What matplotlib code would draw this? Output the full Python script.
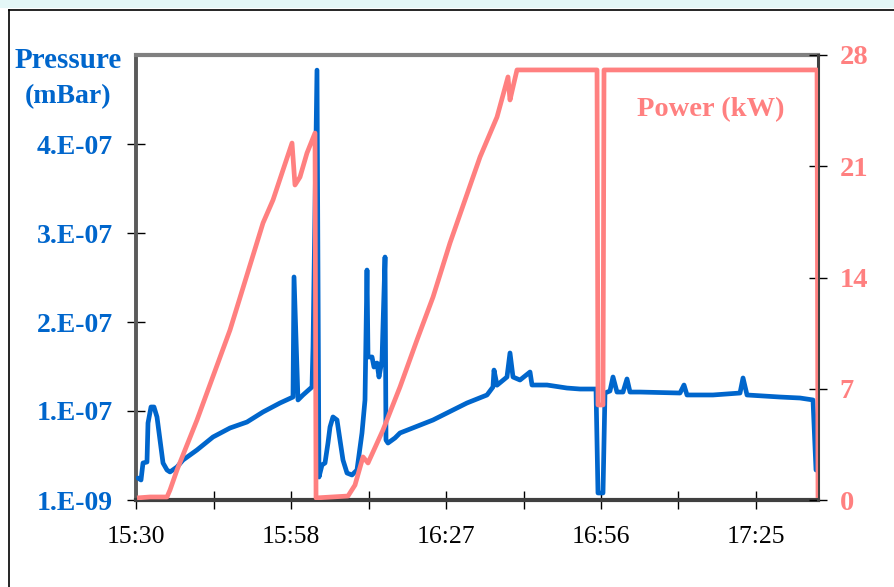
import numpy as np
import matplotlib
matplotlib.use("Agg")
import matplotlib.pyplot as plt
from matplotlib.lines import Line2D
from matplotlib.patches import Rectangle

# ---------------- data ----------------
# time in minutes after 15:30
p_time = [0.37, 0.93, 1.30, 2.04, 2.23, 2.79, 3.34, 3.90, 4.46, 5.02, 5.76, 6.32,
          7.62, 8.73, 11.33, 14.31, 17.47, 20.62, 23.60, 26.76, 29.17, 29.36, 30.10,
          31.03, 32.70, 32.89, 33.63, 34.00, 34.56, 35.12, 35.67, 36.05, 36.60, 37.35,
          37.90, 38.46, 39.21, 40.13, 41.06, 41.99, 42.55, 42.92, 43.11, 43.85, 44.22,
          44.78, 45.15, 45.71, 46.27, 46.45, 46.82, 48.12, 49.05, 55.19, 61.50, 65.22,
          66.33, 66.52, 67.08, 68.93, 69.49, 70.05, 71.35, 73.21, 73.58, 76.37, 80.08,
          82.50, 85.47, 85.84, 86.77, 87.14, 88.07, 88.63, 89.37, 90.49, 91.23, 91.79,
          93.65, 101.08, 101.82, 102.38, 107.21, 112.23, 112.79, 113.53, 119.66,
          123.38, 125.79, 126.35]
# pressure in units of 1e-7 mBar
pressure_e7 = [0.257, 0.235, 0.426, 0.437, 0.875, 1.055, 1.055, 0.943, 0.684, 0.426,
               0.347, 0.325, 0.381, 0.459, 0.572, 0.718, 0.819, 0.886, 0.999, 1.100,
               1.167, 2.516, 1.134, 1.190, 1.280, 1.730, 4.840, 0.268, 0.403, 0.426,
               0.650, 0.830, 0.943, 0.909, 0.684, 0.459, 0.313, 0.291, 0.347, 0.763,
               1.134, 2.594, 1.617, 1.617, 1.504, 1.549, 1.392, 1.583, 2.740, 0.684,
               0.650, 0.707, 0.763, 0.909, 1.100, 1.190, 1.280, 1.470, 1.300, 1.392,
               1.662, 1.392, 1.358, 1.448, 1.302, 1.302, 1.268, 1.257, 1.257, 0.089,
               0.089, 1.212, 1.235, 1.392, 1.223, 1.223, 1.370, 1.223, 1.223, 1.212,
               1.302, 1.190, 1.190, 1.212, 1.381, 1.190, 1.167, 1.156, 1.134, 0.347]

w_time = [0.19, 2.60, 5.76, 6.32, 7.62, 11.33, 17.47, 23.60, 25.46, 27.31, 28.99,
          29.54, 30.47, 31.77, 33.26, 33.45, 36.42, 39.39, 40.69, 42.18, 43.11, 45.89,
          49.05, 52.21, 55.19, 58.34, 63.92, 67.08, 69.12, 69.49, 70.05, 70.79, 76.92,
          85.66, 85.84, 86.77, 86.96, 104.79, 126.54, 126.72]
power_kw = [0.13, 0.19, 0.19, 0.63, 1.89, 5.03, 10.70, 17.43, 18.88, 20.76, 22.46,
            19.82, 20.32, 21.83, 23.09, 0.13, 0.19, 0.25, 0.94, 2.71, 2.33, 4.40,
            7.11, 10.07, 12.77, 16.17, 21.58, 24.10, 26.62, 25.17, 25.99, 27.06, 27.06,
            27.06, 5.98, 5.98, 27.06, 27.06, 27.06, 0.13]

x_ticks_min = [0, 14.4, 28.8, 43.2, 57.6, 72.0, 86.4, 100.8, 115.2]
x_tick_labels = ["15:30", "", "15:58", "", "16:27", "", "16:56", "", "17:25"]
p_ticks_e7 = [0.01, 1.01, 2.01, 3.01, 4.01]
p_tick_labels = ["1.E-09", "1.E-07", "2.E-07", "3.E-07", "4.E-07"]
w_ticks = [0, 7, 14, 21, 28]
w_tick_labels = ["0", "7", "14", "21", "28"]

BLUE = "#0066CC"
PINK = "#FF8080"
SERIF = "Liberation Serif"

# ---------------- figure ----------------
W, H = 895, 587
fig = plt.figure(figsize=(W / 100, H / 100), dpi=100)
fig.patch.set_facecolor("white")

# top band and frame lines
fig.patches.append(Rectangle((0, 1 - 8 / H), 1, 8 / H, transform=fig.transFigure,
                             facecolor="#E4F7F7", edgecolor="none", zorder=0))
fig.lines.append(Line2D([8.5 / W, 1], [1 - 9.5 / H, 1 - 9.5 / H],
                        transform=fig.transFigure, color="black", lw=1.2))
fig.lines.append(Line2D([8.5 / W, 8.5 / W], [0, 1 - 9.5 / H],
                        transform=fig.transFigure, color="black", lw=1.2))

ax = fig.add_axes([136 / W, 1 - 500 / H, (818 - 136) / W, (500 - 55) / H])
ax2 = ax.twinx()

pressure = np.array(pressure_e7) * 1e-7
ax.plot(p_time, pressure, color=BLUE, lw=3.4, solid_joinstyle="round",
        solid_capstyle="round", zorder=3)
ax2.plot(w_time, power_kw, color=PINK, lw=3.4, solid_joinstyle="round",
         solid_capstyle="butt", zorder=3)

ax.set_xlim(0, 126.72)
ax.set_ylim(0.01e-7, 5.01e-7)
ax2.set_ylim(0, 28)

ax.set_xticks(x_ticks_min)
ax.set_xticklabels(x_tick_labels, fontfamily=SERIF, fontsize=18.5, color="black")
ax.set_yticks(np.array(p_ticks_e7) * 1e-7)
ax.set_yticklabels(p_tick_labels, fontfamily=SERIF, fontsize=20,
                   fontweight="bold", color=BLUE)
ax2.set_yticks(w_ticks)
ax2.set_yticklabels(w_tick_labels, fontfamily=SERIF, fontsize=20.5,
                    fontweight="bold", color=PINK)

ax.tick_params(axis="x", direction="inout", length=13, width=1, color="black", pad=12)
ax.tick_params(axis="y", direction="inout", length=13, width=1, color="black", pad=10)
ax2.tick_params(axis="y", direction="inout", length=13, width=1, color="black", pad=9)

for s in ("top", "bottom", "left", "right"):
    ax2.spines[s].set_visible(False)
ax.spines["right"].set_visible(False)
ax2.spines["right"].set_visible(True)
ax2.spines["right"].set_color("#404040")
ax2.spines["right"].set_linewidth(2.2)
ax.spines["top"].set_color("#808080")
ax.spines["top"].set_linewidth(3)
ax.spines["left"].set_color("#5a5a5a")
ax.spines["left"].set_linewidth(2.8)
ax.spines["bottom"].set_color("#404040")
ax.spines["bottom"].set_linewidth(3)

# axis titles
fig.text(68 / W, 1 - 60 / H, "Pressure", ha="center", va="center",
         fontfamily=SERIF, fontsize=21, fontweight="bold", color=BLUE)
fig.text(68 / W, 1 - 97 / H, "(mBar)", ha="center", va="center",
         fontfamily=SERIF, fontsize=20, fontweight="bold", color=BLUE)
fig.text(711 / W, 1 - 110 / H, "Power (kW)", ha="center", va="center",
         fontfamily=SERIF, fontsize=20.5, fontweight="bold", color=PINK)

fig.savefig("out.png", dpi=100)
